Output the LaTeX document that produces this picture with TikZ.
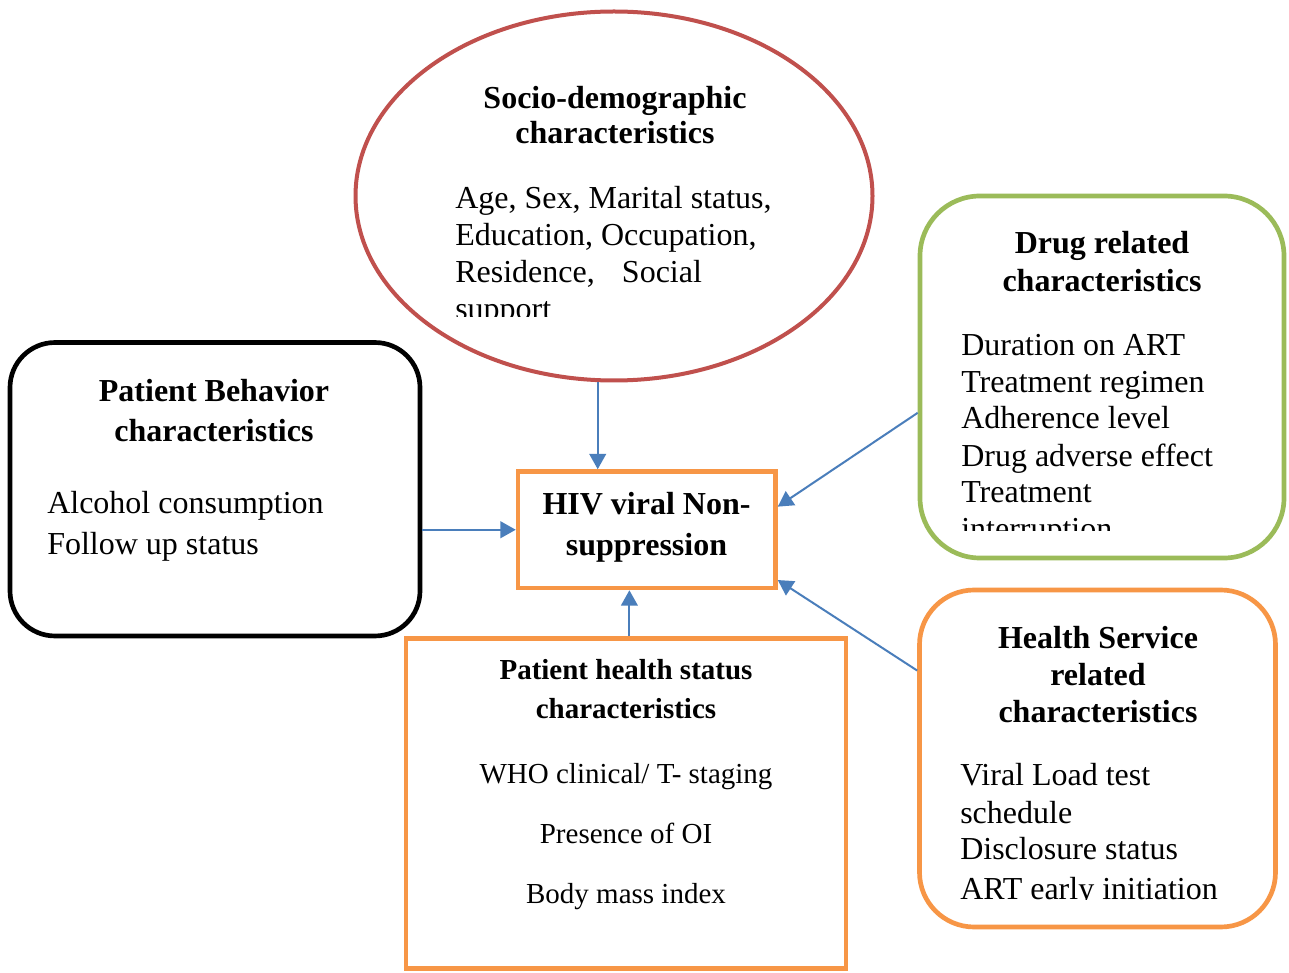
\documentclass[tikz,border=0pt]{standalone}
\usepackage{fontspec}
\setmainfont{Liberation Serif}
\usetikzlibrary{arrows.meta,shapes.geometric}
\definecolor{redc}{HTML}{C0504D}
\definecolor{greenc}{HTML}{9BBB59}
\definecolor{orangec}{HTML}{F79646}
\definecolor{bluec}{HTML}{4A7EBB}
\begin{document}
\begin{tikzpicture}[x=0.75pt,y=-0.75pt,
  frame/.style={draw, inner sep=0pt, line width=3.5pt},
  hd/.style={inner sep=0pt, anchor=base, font=\fontsize{24}{28}\selectfont\bfseries},
  it/.style={inner sep=0pt, anchor=base west, font=\fontsize{24}{28}\selectfont},
  hds/.style={inner sep=0pt, anchor=base, font=\fontsize{21.75}{26}\selectfont\bfseries},
  its/.style={inner sep=0pt, anchor=base, font=\fontsize{21.75}{26}\selectfont},
  conn/.style={draw=bluec, line width=1.5pt, -{Triangle[length=11.5pt,width=12.5pt]}}]
\useasboundingbox[fill=white] (0,0) rectangle (1289,973);

% shapes
\node[frame, ellipse, draw=redc, line width=3pt, minimum width=387.75pt, minimum height=276.75pt] (socio) at (614,196) {};
\node[frame, rectangle, rounded corners=33.75pt, draw=black, minimum width=307.5pt, minimum height=220.1pt] (beh) at (215,489.25) {};
\node[frame, rectangle, draw=orangec, line width=3.4pt, minimum width=193.1pt, minimum height=87.4pt] (hiv) at (646.75,529.75) {};
\node[frame, rectangle, rounded corners=45pt, draw=greenc, minimum width=273pt, minimum height=271.5pt] (drug) at (1102,377) {};
\node[frame, rectangle, rounded corners=41pt, draw=orangec, minimum width=267pt, minimum height=252.75pt] (hsvc) at (1097.5,758.5) {};
\node[frame, rectangle, draw=orangec, line width=3.4pt, minimum width=330pt, minimum height=247.5pt] (pstat) at (626,803.5) {};

% socio-demographic text
\node[hd] (s1) at (615,109) {Socio-demographic};
\node[hd] (s2) at (615,144) {characteristics};
\node[it] (s3) at (455,209) {Age, Sex, Marital status,};
\node[it] (s4) at (455,246) {Education, Occupation,};
\node[it] (s5) at (455,283) {Residence,\hspace{0.6em} Social};
\begin{scope}
\clip (400,290) rectangle (800,316.5);
\node[it] (s6) at (455,320) {support};
\end{scope}

% patient behavior text
\node[hd] (b1) at (214,402) {Patient Behavior};
\node[hd] (b2) at (214,442) {characteristics};
\node[it] (b3) at (47,513) {Alcohol consumption};
\node[it] (b4) at (47,554) {Follow up status};

% HIV
\node[hd] (h1) at (646.5,514) {HIV viral Non-};
\node[hd] (h2) at (646.5,555) {suppression};

% drug
\node[hd] (d1) at (1102,254) {Drug related};
\node[hd] (d2) at (1102,292) {characteristics};
\node[it] (d3) at (961,356) {Duration on ART};
\node[it] (d4) at (961,393) {Treatment regimen};
\node[it] (d5) at (961,429) {Adherence level};
\node[it] (d6) at (961,466) {Drug adverse effect};
\node[it] (d7) at (961,503) {Treatment};
\begin{scope}
\clip (940,510) rectangle (1270,530);
\node[it] (d8) at (961,539.5) {interruption};
\end{scope}

% health service
\node[hd] (v1) at (1098,648) {Health Service};
\node[hd] (v2) at (1098,685) {related};
\node[hd] (v3) at (1098,722) {characteristics};
\node[it] (v4) at (960,785) {Viral Load test};
\node[it] (v5) at (960,823) {schedule};
\node[it] (v6) at (960,859) {Disclosure status};
\begin{scope}
\clip (940,870) rectangle (1260,899.5);
\node[it] (v7) at (960,899) {ART early initiation};
\end{scope}

% patient health status
\node[hds] (p1) at (626,679) {Patient health status};
\node[hds] (p2) at (626,718) {characteristics};
\node[its] (p3) at (626,783) {WHO clinical/ T- staging};
\node[its] (p4) at (626,843) {Presence of OI};
\node[its] (p5) at (626,903) {Body mass index};

% connectors
\draw[conn] (socio.265.3) -- (socio.265.3 |- hiv.north);
\draw[conn] (hiv.west -| beh.east) -- (hiv.west);
\draw[conn] (hiv.254.9 |- pstat.north) -- (hiv.254.9);
\draw[conn] (drug.191.8) -- (hiv.10.2);
\draw[conn] (hsvc.154.3) -- (hiv.339.2);
\end{tikzpicture}
\end{document}
